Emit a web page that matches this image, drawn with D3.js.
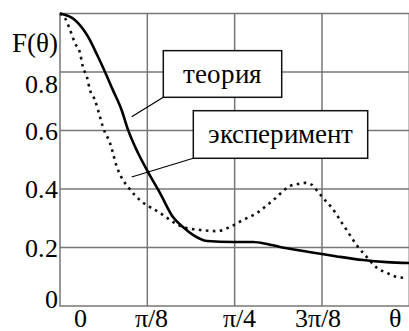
<!DOCTYPE html>
<html><head><meta charset="utf-8"><script src="https://cdn.jsdelivr.net/npm/d3@7"></script>
<style>
@font-face { font-family: "ChartSerif"; src: local("Liberation Serif"), local("LiberationSerif"), local("Times New Roman"); }
</style>
</head>
<body style="margin:0">
<svg id="fig" width="409" height="331"></svg>
<script>
// ---- data (θ in radians, F(θ) dimensionless) ----
const thetaTheory = [0, 0.067, 0.126, 0.171, 0.202, 0.238, 0.277, 0.306, 0.351, 0.396, 0.450, 0.508, 0.553, 0.598, 0.661, 0.778, 0.868, 0.931, 0.989, 1.093, 1.178, 1.259, 1.363, 1.470, 1.571];
const fTheory     = [1.0, 0.978, 0.921, 0.852, 0.801, 0.738, 0.670, 0.602, 0.523, 0.458, 0.386, 0.304, 0.270, 0.243, 0.222, 0.219, 0.219, 0.212, 0.202, 0.188, 0.178, 0.168, 0.157, 0.150, 0.147];

const thetaExp = [0, 0.022, 0.045, 0.067, 0.090, 0.103, 0.121, 0.135, 0.157, 0.171, 0.180, 0.193, 0.225, 0.256, 0.283, 0.306, 0.337, 0.369, 0.405, 0.450, 0.495, 0.553, 0.630, 0.706, 0.764, 0.823, 0.886, 0.931, 0.976, 1.003, 1.034, 1.070, 1.102, 1.133, 1.160, 1.192, 1.223, 1.268, 1.295, 1.318, 1.340, 1.372, 1.426, 1.470, 1.516, 1.560];
const fExp     = [1.0, 0.985, 0.944, 0.899, 0.865, 0.817, 0.783, 0.738, 0.704, 0.670, 0.646, 0.612, 0.557, 0.475, 0.431, 0.407, 0.379, 0.356, 0.338, 0.318, 0.294, 0.270, 0.260, 0.256, 0.270, 0.294, 0.318, 0.345, 0.373, 0.393, 0.410, 0.417, 0.421, 0.414, 0.390, 0.362, 0.335, 0.284, 0.253, 0.226, 0.202, 0.174, 0.130, 0.113, 0.099, 0.096];

const yTicks      = [0, 0.2, 0.4, 0.6, 0.8];
const yTickLabels = ["0", "0.2", "0.4", "0.6", "0.8"];
const xTicks      = [0, Math.PI / 8, Math.PI / 4, 3 * Math.PI / 8, Math.PI / 2];
const xTickLabels = ["0", "π/8", "π/4", "3π/8", "θ"];
const yAxisTitle  = "F(θ)";
const seriesNames = ["теория", "эксперимент"];

// ---- layout ----
function serif(sel, size) {
  sel.style("font-family", '"ChartSerif", "Liberation Serif"').style("font-size", size + "px").attr("fill", "#000");
}
const svg = d3.select("#fig").style("display", "block");
const x = d3.scaleLinear().domain([0, Math.PI / 2]).range([60, 409.3]);
const y = d3.scaleLinear().domain([0, 1]).range([306, 13.5]);
const gridColor = "#777";

// grid lines (scale-driven)
const g = svg.append("g");
g.append("g").selectAll("line").data([0.2, 0.4, 0.6, 0.8]).join("line")
  .attr("x1", x(0)).attr("x2", x(Math.PI / 2)).attr("y1", d => y(d)).attr("y2", d => y(d))
  .attr("stroke", gridColor).attr("stroke-width", 1.5);
g.append("g").selectAll("line").data([Math.PI / 8, Math.PI / 4, 3 * Math.PI / 8]).join("line")
  .attr("x1", d => x(d)).attr("x2", d => x(d)).attr("y1", y(0)).attr("y2", y(1))
  .attr("stroke", gridColor).attr("stroke-width", 1.5);
g.append("rect")
  .attr("x", x(0)).attr("y", y(1))
  .attr("width", x(Math.PI / 2) - x(0)).attr("height", y(0) - y(1))
  .attr("fill", "none").attr("stroke", gridColor).attr("stroke-width", 1.5);

// curves
const line = d3.line().x(d => x(d[0])).y(d => y(d[1])).curve(d3.curveMonotoneX);
svg.append("path")
  .datum(thetaExp.map((t, i) => [t, fExp[i]]))
  .attr("d", line).attr("fill", "none").attr("stroke", "#111")
  .attr("stroke-width", 2.6).attr("stroke-dasharray", "2.6,4.4");
svg.append("path")
  .datum(thetaTheory.map((t, i) => [t, fTheory[i]]))
  .attr("d", line).attr("fill", "none").attr("stroke", "#000")
  .attr("stroke-width", 2.6);

// tick labels
const yLabelDy = [-7, 0, 0, 0, 12];
svg.append("g").selectAll("text").data(yTicks).join("text")
  .attr("x", 58).attr("y", (d, i) => y(d) + yLabelDy[i] + 9)
  .attr("text-anchor", "end")
  .call(serif, 26)
  .text((d, i) => yTickLabels[i]);
const xLabelDx = [20, 4.5, 5, -3.7, -14.3];
svg.append("g").selectAll("text").data(xTicks).join("text")
  .attr("x", (d, i) => x(d) + xLabelDx[i]).attr("y", 327)
  .attr("text-anchor", "middle")
  .call(serif, 26)
  .text((d, i) => xTickLabels[i]);
svg.append("text").attr("x", 57.5).attr("y", 52).attr("text-anchor", "end")
  .call(serif, 27)
  .text(yAxisTitle);

// annotations (box corners & leader ends in data coordinates)
const notes = [
  { name: seriesNames[0], box: [0.4645, 0.873, 0.997, 0.7135], end: [0.3224, 0.647] },
  { name: seriesNames[1], box: [0.5995, 0.6677, 1.3837, 0.505], end: [0.3224, 0.441] }
];
notes.forEach(n => {
  const [t0, f0, t1, f1] = n.box;
  svg.append("line")
    .attr("x1", x(t0)).attr("y1", y(f1)).attr("x2", x(n.end[0])).attr("y2", y(n.end[1]))
    .attr("stroke", "#000").attr("stroke-width", 1.2);
  svg.append("rect")
    .attr("x", x(t0)).attr("y", y(f0))
    .attr("width", x(t1) - x(t0)).attr("height", y(f1) - y(f0))
    .attr("fill", "#fff").attr("stroke", "#111").attr("stroke-width", 1.5);
  svg.append("text")
    .attr("x", (x(t0) + x(t1)) / 2).attr("y", (y(f0) + y(f1)) / 2 + 9)
    .attr("text-anchor", "middle")
    .call(serif, 27)
    .text(n.name);
});
</script>
</body>
</html>
